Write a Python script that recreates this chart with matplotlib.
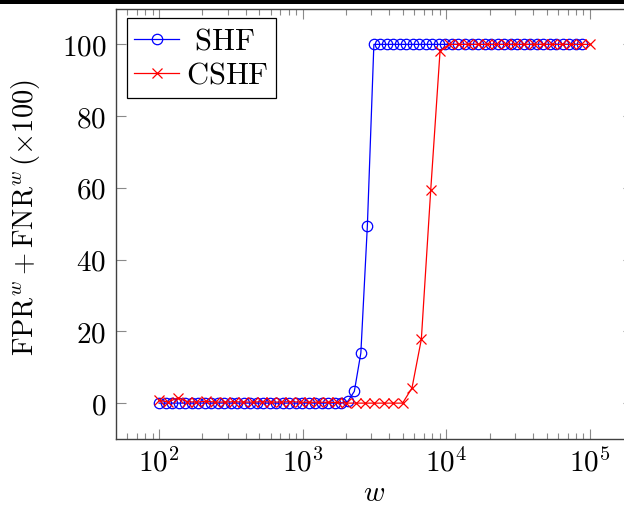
import matplotlib
matplotlib.use("Agg")
import matplotlib.pyplot as plt
from matplotlib.patches import Rectangle
from matplotlib.ticker import LogLocator, NullFormatter

plt.rcParams['mathtext.fontset'] = 'cm'
plt.rcParams['font.family'] = ['DejaVu Serif']

# window sizes w for each method
shf_w = [100, 111, 123, 137, 152, 169, 187, 208, 230, 256, 284, 315, 350, 388,
         431, 479, 531, 590, 654, 726, 806, 895, 993, 1103, 1224, 1359, 1508,
         1674, 1858, 2062, 2289, 2541, 2821, 3131, 3475, 3857, 4282, 4753, 5276,
         5856, 6500, 7215, 8009, 8890, 9868, 10953, 12158, 13495, 14980, 16627,
         18456, 20486, 22740, 25241, 28018, 31100, 34521, 38318, 42533, 47212,
         52405, 58169, 64568, 71671, 79554, 88305]
shf_err = [0.0] * 29 + [0.5, 3.3, 14.0, 49.5] + [100.0] * 33

cshf_w = [100, 116, 135, 157, 182, 212, 246, 286, 333, 386, 449, 522, 606, 705,
          819, 951, 1105, 1285, 1493, 1735, 2016, 2342, 2722, 3162, 3675, 4270,
          4962, 5766, 6701, 7787, 9048, 10514, 12218, 14198, 16499, 19173, 22280,
          25890, 30086, 34961, 40626, 47210, 54860, 63750, 74080, 86085, 100000]
cshf_err = [0.8, 0.3, 1.5, 0.4, 0.3, 0.5, 0.3, 0.3, 0.4, 0.3, 0.3, 0.4, 0.3,
            0.3, 0.4, 0.3, 0.2, 0.3, 0.2, 0.2, 0.0, 0.0, 0.0, 0.0, 0.0, 0.0,
            0.0, 4.2, 17.8, 59.3, 98.2] + [100.0] * 16

y_ticks = [0, 20, 40, 60, 80, 100]
x_ticks = [1e2, 1e3, 1e4, 1e5]
x_labels = [r'$10^{2}$', r'$10^{3}$', r'$10^{4}$', r'$10^{5}$']

fs = 21

fig = plt.figure(figsize=(6.24, 5.07), dpi=100)
ax = fig.add_axes([116 / 624, 68 / 507, 517 / 624, 430.5 / 507])

# legend cells are centred in the original, so SHF gets a small lead-in
ax.plot(shf_w, shf_err, color='#0000ff', lw=0.9, marker='o', ms=7.5,
        mfc='none', mew=0.9, label=r'$\ \mathrm{SHF}$')
ax.plot(cshf_w, cshf_err, color='#ff0000', lw=0.9, marker='x', ms=6.5,
        mew=0.9, label=r'$\mathrm{CSHF}$')

ax.set_xscale('log')
ax.set_xlim(10 ** 1.7, 10 ** 5.3)
ax.set_ylim(-10, 110)

ax.set_xticks(x_ticks)
ax.set_xticklabels(x_labels)
ax.xaxis.set_minor_locator(LogLocator(base=10, subs=range(2, 10), numticks=20))
ax.xaxis.set_minor_formatter(NullFormatter())
ax.set_yticks(y_ticks)
ax.set_yticklabels([r'$%d$' % v for v in y_ticks])

ax.tick_params(which='both', direction='in', top=True, right=True,
               color='#8a8a8a', width=0.8, labelsize=fs)
ax.tick_params(which='major', length=7.5)
ax.tick_params(which='minor', length=4.5)
ax.tick_params(axis='y', pad=7)
ax.tick_params(axis='x', pad=7)

for sp in ax.spines.values():
    sp.set_color('#404040')
    sp.set_linewidth(1.0)

ax.set_xlabel(r'$w$', fontsize=fs, labelpad=1)
ax.set_ylabel(r'$\mathrm{FPR}^w+\mathrm{FNR}^w\,(\times 100)$', fontsize=20.5)
ax.yaxis.set_label_coords(-0.143, 0.5145)

leg = ax.legend(loc='upper left', bbox_to_anchor=(127 / 624, 1 - 18 / 507),
                bbox_transform=fig.transFigure, borderaxespad=0, fontsize=22,
                fancybox=False, framealpha=1, edgecolor='black',
                handlelength=1.47, handletextpad=0.23, borderpad=0.24,
                labelspacing=0.1)
leg.get_frame().set_linewidth(0.9)

# heavy rule along the top of the page
fig.add_artist(Rectangle((0, 1 - 3.5 / 507), 1, 3.5 / 507,
                         transform=fig.transFigure, color='black', lw=0))

fig.savefig('out.png', dpi=100)
